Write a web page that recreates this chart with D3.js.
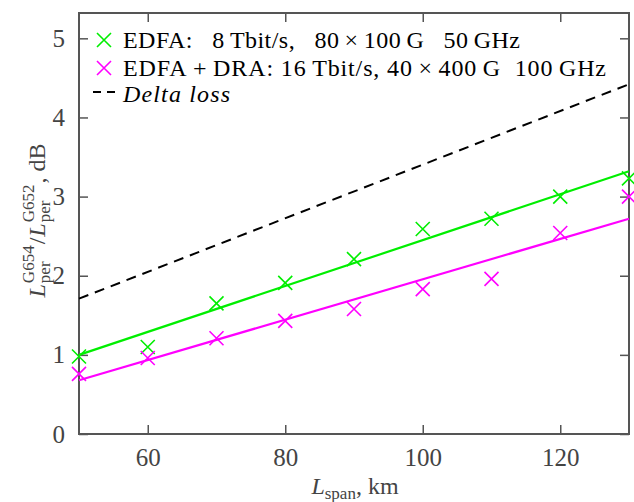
<!DOCTYPE html>
<html>
<head>
<meta charset="utf-8">
<script src="https://cdn.jsdelivr.net/npm/d3@7"></script>
<style>
  body { margin: 0; background: #fff; }
</style>
</head>
<body>
<div class="canvas"></div>
<script>
// data
const spans = [50, 60, 70, 80, 90, 100, 110, 120, 130];
const edfa = [0.98, 1.10, 1.65, 1.91, 2.21, 2.59, 2.72, 3.00, 3.23];
const edfaDra = [0.76, 0.96, 1.21, 1.43, 1.58, 1.83, 1.96, 2.54, 3.00];
// fitted lines (end points)
const edfaFit = [[50, 1.00], [130, 3.32]];
const edfaDraFit = [[50, 0.68], [130, 2.72]];
const deltaLoss = [[50, 1.71], [130, 4.42]];
const xTicks = [60, 80, 100, 120];
const yTicks = [0, 1, 2, 3, 4, 5];

const serif = '"Liberation Serif"';

const width = 634, height = 502;
const margin = { top: 13, right: 5, bottom: 68, left: 79 };
const graphWidth = width - margin.left - margin.right;
const graphHeight = height - margin.top - margin.bottom;

const svg = d3.select('.canvas')
  .append('svg')
  .attr('width', width)
  .attr('height', height);

const graph = svg.append('g')
  .attr('transform', `translate(${margin.left}, ${margin.top})`);

const x = d3.scaleLinear().domain([50, 130]).range([0, graphWidth]);
const y = d3.scaleLinear().domain([0, 5.32]).range([graphHeight, 0]);

const axisColor = '#555';

// frame
graph.append('rect')
  .attr('width', graphWidth)
  .attr('height', graphHeight)
  .attr('fill', 'none')
  .attr('stroke', axisColor)
  .attr('stroke-width', 2);

// inward ticks on all four sides
const tickLen = 9;
const styleAxis = g => {
  g.attr('font-family', null);
  g.select('.domain').remove();
  g.selectAll('line').attr('stroke', axisColor).attr('stroke-width', 1.5);
  g.selectAll('text')
    .attr('fill', '#444')
    .style('font-size', '25px')
    .style('font-family', serif);
};

graph.append('g')
  .attr('transform', `translate(0, ${graphHeight})`)
  .call(d3.axisBottom(x).tickValues(xTicks).tickSize(-tickLen).tickPadding(14).tickFormat(d3.format('d')))
  .call(styleAxis);
graph.append('g')
  .call(d3.axisTop(x).tickValues(xTicks).tickSize(-tickLen).tickFormat(''))
  .call(styleAxis);
graph.append('g')
  .call(d3.axisLeft(y).tickValues(yTicks).tickSize(-tickLen).tickPadding(14).tickFormat(d3.format('d')))
  .call(styleAxis);
graph.append('g')
  .attr('transform', `translate(${graphWidth}, 0)`)
  .call(d3.axisRight(y).tickValues(yTicks).tickSize(-tickLen).tickFormat(''))
  .call(styleAxis);

const green = '#00ee00';
const magenta = '#ff00ff';

const line = d3.line().x(d => x(d[0])).y(d => y(d[1]));

graph.append('path')
  .attr('d', line(deltaLoss))
  .attr('fill', 'none')
  .attr('stroke', '#000')
  .attr('stroke-width', 2)
  .attr('stroke-dasharray', '10,7');

graph.append('path')
  .attr('d', line(edfaFit))
  .attr('fill', 'none')
  .attr('stroke', green)
  .attr('stroke-width', 2.2);

graph.append('path')
  .attr('d', line(edfaDraFit))
  .attr('fill', 'none')
  .attr('stroke', magenta)
  .attr('stroke-width', 2.2);

// thin crosses
const xMark = (g, cx, cy, color) => {
  const s = 7;
  g.append('path')
    .attr('d', `M${cx - s},${cy - s}L${cx + s},${cy + s}M${cx - s},${cy + s}L${cx + s},${cy - s}`)
    .attr('stroke', color)
    .attr('stroke-width', 1.6)
    .attr('fill', 'none');
};

const markGroup = graph.append('g');
edfa.forEach((v, i) => xMark(markGroup, x(spans[i]), y(v), green));
edfaDra.forEach((v, i) => xMark(markGroup, x(spans[i]), y(v), magenta));

// legend
const legend = svg.append('g');
xMark(legend, 104, 40, green);
xMark(legend, 104, 68, magenta);
legend.append('line')
  .attr('x1', 93).attr('x2', 116)
  .attr('y1', 92).attr('y2', 92)
  .attr('stroke', '#000')
  .attr('stroke-width', 2)
  .attr('stroke-dasharray', '8,6');

const legendText = [
  { t: 'EDFA:\u00a0\u00a0 8\u2009Tbit/s,\u00a0\u00a0 80\u2009×\u2009100\u2009G\u00a0\u00a0 50\u2009GHz', y: 48, italic: false, len: 397 },
  { t: 'EDFA\u2009+\u2009DRA: 16\u2009Tbit/s, 40\u2009×\u2009400\u2009G\u00a0\u00a0100\u2009GHz', y: 76, italic: false, len: 483 },
  { t: 'Delta loss', y: 102, italic: true, len: 107 }
];
legend.selectAll('text')
  .data(legendText)
  .enter()
  .append('text')
  .attr('x', 123)
  .attr('y', d => d.y)
  .attr('textLength', d => d.len)
  .attr('lengthAdjust', 'spacing')
  .style('font-family', serif)
  .style('font-size', '24px')
  .style('font-style', d => d.italic ? 'italic' : 'normal')
  .attr('fill', '#000')
  .text(d => d.t);

// x label
const xLabel = svg.append('text')
  .attr('x', 355)
  .attr('y', 494)
  .attr('text-anchor', 'middle')
  .attr('fill', '#444')
  .style('font-family', serif)
  .style('font-size', '24px');
xLabel.append('tspan').style('font-style', 'italic').text('L');
xLabel.append('tspan').attr('dy', 5).style('font-size', '17px').text('span');
xLabel.append('tspan').attr('dy', -5).text(', km');

// y label: pieces laid out along a cursor, sub/sup stacked
const yLabel = svg.append('g');
const yPieces = [
  [{ t: 'L', size: 24, italic: true, dy: 0 }],
  [{ t: 'G654', size: 17, dy: -11 }, { t: 'per', size: 17, dy: 5 }],
  [{ t: '/', size: 24, dy: 0 }],
  [{ t: 'L', size: 24, italic: true, dy: 0 }],
  [{ t: 'G652', size: 17, dy: -11 }, { t: 'per', size: 17, dy: 5 }],
  [{ t: ', dB', size: 24, dy: 0 }]
];
let cursor = 0;
yPieces.forEach(stack => {
  let w = 0;
  stack.forEach(p => {
    const t = yLabel.append('text')
      .attr('x', cursor)
      .attr('y', p.dy)
      .attr('fill', '#444')
      .style('font-family', serif)
      .style('font-size', p.size + 'px')
      .style('font-style', p.italic ? 'italic' : 'normal')
      .text(p.t);
    w = Math.max(w, t.node().getComputedTextLength());
  });
  cursor += w + 1;
});
yLabel.attr('transform', `translate(45, ${220 + cursor / 2}) rotate(-90)`);
</script>
</body>
</html>
